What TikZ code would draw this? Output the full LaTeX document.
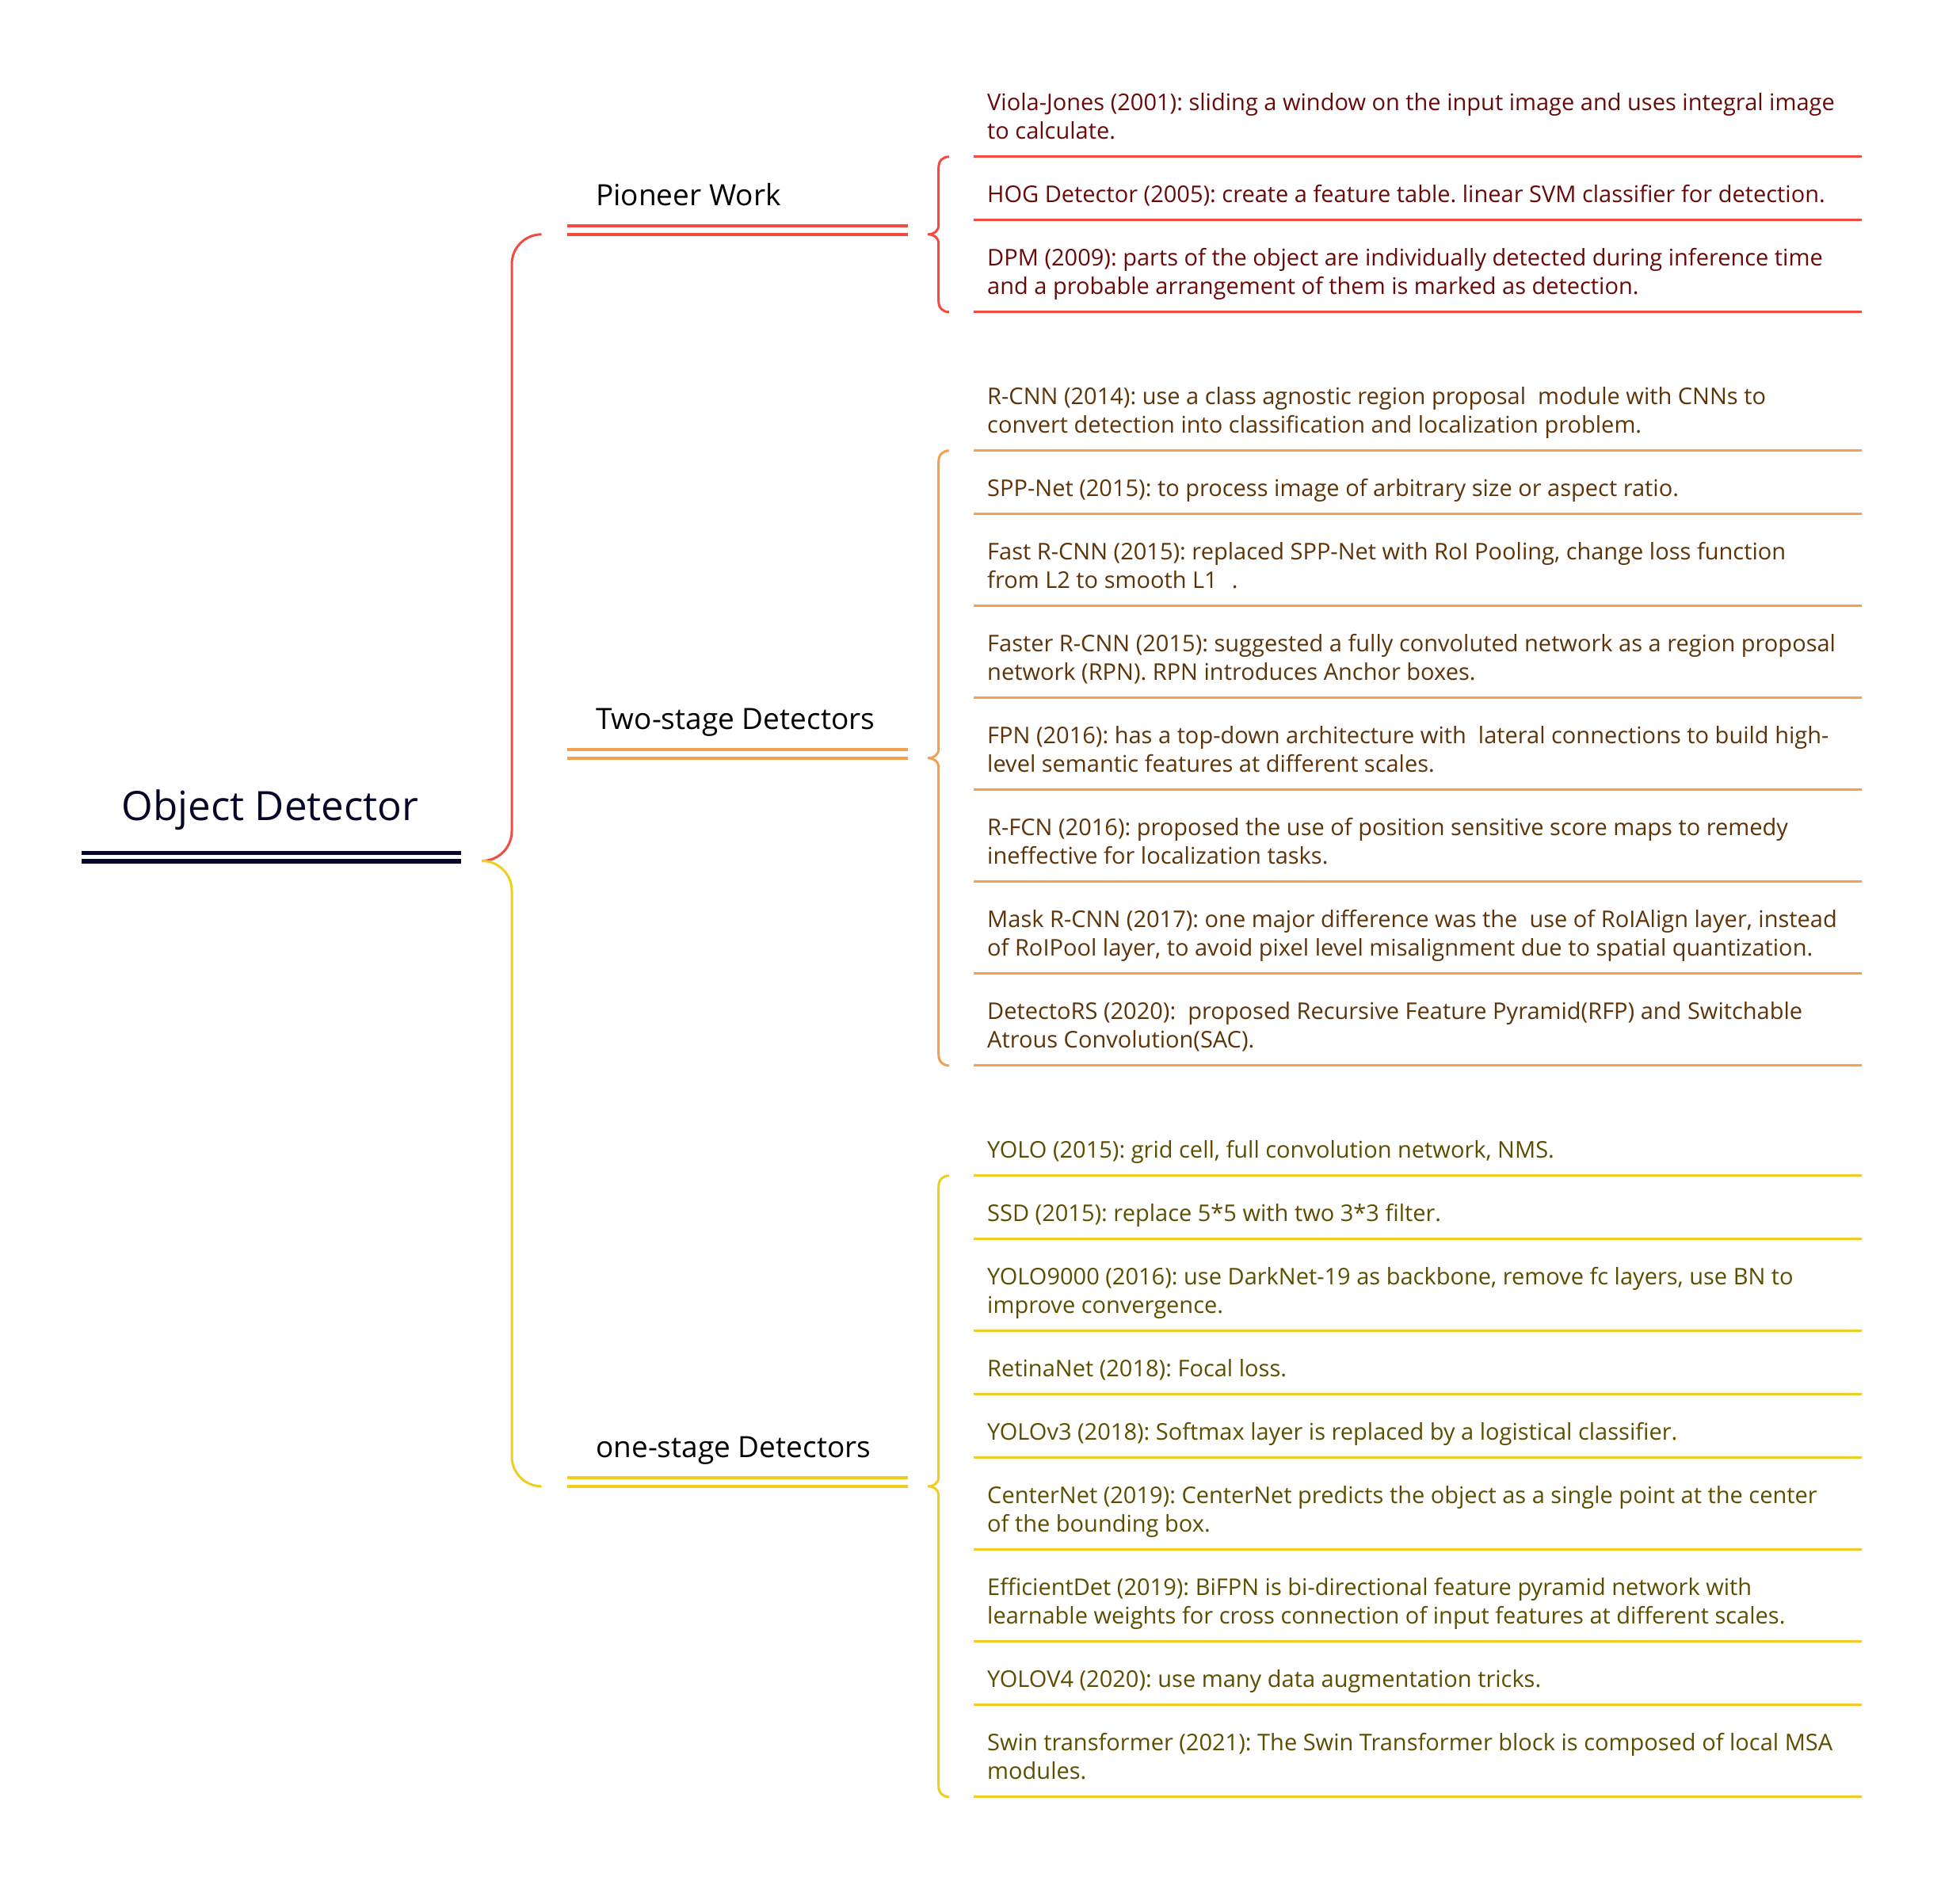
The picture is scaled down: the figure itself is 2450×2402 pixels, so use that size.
\documentclass[tikz,border=0pt]{standalone}
\usepackage{fontspec}
\setmainfont{Open Sans}
\frenchspacing
\definecolor{navy}{RGB}{6,6,38}
\definecolor{redL}{RGB}{244,75,65}
\definecolor{orangeL}{RGB}{244,161,79}
\definecolor{yellowL}{RGB}{241,205,36}
\definecolor{redT}{RGB}{105,10,10}
\definecolor{orangeT}{RGB}{94,51,8}
\definecolor{yellowT}{RGB}{92,77,0}
\newcommand{\itemrow}[4]{%
  \coordinate (#1L) at (1229.4,#3);
  \coordinate (#1R) at (2350,#3);
  \draw[itemline,#2L] (#1L) -- (#1R);
  \node[itemtext,text=#2T] (#1) at (1246,{#3-22}) {\parbox[b]{1150pt}{\raggedright\frenchspacing #4}};
}
\newcommand{\subbrace}[4]{%
  \pgfmathsetmacro\bmid{(#2+#3)/2}
  \coordinate (#4t) at (1198,#2);
  \coordinate (#4b) at (1198,#3);
  \coordinate (#4m) at (1171,\bmid);
  \draw[bracepath,#1] (#4t) .. controls (1190,#2) and (1184.7,{#2+5}) .. (1184.7,{#2+14})
    -- (1184.7,{\bmid-12}) .. controls (1184.7,{\bmid-4}) and (1179,\bmid) .. (#4m)
    .. controls (1179,\bmid) and (1184.7,{\bmid+4}) .. (1184.7,{\bmid+12})
    -- (1184.7,{#3-14}) .. controls (1184.7,{#3-5}) and (1190,#3) .. (#4b);
}
\newcommand{\branch}[4]{% name, colour, mid y, text
  \node[branchtext] (#1) at (752,{#3-36.4}) {#4};
  \coordinate (#1a) at (716,{#3-11});
  \coordinate (#1b) at (1145.5,{#3-11});
  \coordinate (#1c) at (716,{#3});
  \coordinate (#1d) at (1145.5,{#3});
  \coordinate (#1S) at (683,{#3});
  \draw[branchline,#2] (#1a) -- (#1b) (#1c) -- (#1d);
}
\begin{document}
\begin{tikzpicture}[x=1pt,y=-1pt,line cap=butt,
  itemtext/.style={anchor=base west,inner sep=0pt,font=\fontsize{29}{36}\selectfont},
  itemline/.style={line width=3.3pt},
  bracepath/.style={line width=3pt},
  branchline/.style={line width=3.6pt},
  branchtext/.style={anchor=base west,inner sep=0pt,font=\fontsize{37}{44}\selectfont,text=black},
  conn/.style={line width=3pt,rounded corners=37.5pt}]
\useasboundingbox (0,0) rectangle (2450,2402);

% root
\node[anchor=base,inner sep=0pt,font=\fontsize{51}{60}\selectfont,text=navy] (root) at (341,1035) {Object Detector};
\coordinate (rootA) at (103,1076.5);
\coordinate (rootB) at (582,1076.5);
\coordinate (rootC) at (103,1087);
\coordinate (rootD) at (582,1087);
\draw[navy,line width=5.4pt] (rootA) -- (rootB) (rootC) -- (rootD);
\coordinate (rj) at (608,1086.5);

% branches
\branch{pw}{redL}{295.8}{Pioneer Work}
\branch{ts}{orangeL}{956.8}{Two-stage Detectors}
\branch{os}{yellowL}{1875.8}{one-stage Detectors}

\draw[conn,redL] (rj) -- ++(38,0) |- (pwS);
\draw[conn,yellowL] (rj) -- ++(38,0) |- (osS);

% sub braces
\subbrace{redL}{197.8}{393.8}{pb}
\subbrace{orangeL}{568.8}{1344.8}{tb}
\subbrace{yellowL}{1483.8}{2267.8}{ob}

% items
\itemrow{viola}{red}{197.8}{Viola-Jones (2001): sliding a window on the input image and uses integral image\\to calculate.}
\itemrow{hog}{red}{277.8}{HOG Detector (2005): create a feature table. linear SVM classifier for detection.}
\itemrow{dpm}{red}{393.8}{DPM (2009): parts of the object are individually detected during inference time\\and a probable arrangement of them is marked as detection.}

\itemrow{rcnn}{orange}{568.8}{R-CNN (2014): use a class agnostic region proposal\ \ module with CNNs to\\convert detection into classification and localization problem.}
\itemrow{spp}{orange}{648.8}{SPP-Net (2015): to process image of arbitrary size or aspect ratio.}
\itemrow{fast}{orange}{764.8}{Fast R-CNN (2015): replaced SPP-Net with RoI Pooling, change loss function\\from L2 to smooth L1\hspace*{18pt}.}
\itemrow{faster}{orange}{880.8}{Faster R-CNN (2015): suggested a fully convoluted network as a region proposal\\network (RPN). RPN introduces Anchor boxes.}
\itemrow{fpn}{orange}{996.8}{FPN (2016): has a top-down architecture with\ \ lateral connections to build high-\\level semantic features at different scales.}
\itemrow{rfcn}{orange}{1112.8}{R-FCN (2016): proposed the use of position sensitive score maps to remedy\\ineffective for localization tasks.}
\itemrow{mask}{orange}{1228.8}{Mask R-CNN (2017): one major difference was the\ \ use of RoIAlign layer, instead\\of RoIPool layer, to avoid pixel level misalignment due to spatial quantization.}
\itemrow{dets}{orange}{1344.8}{DetectoRS (2020):\ \ proposed Recursive Feature Pyramid(RFP) and Switchable\\Atrous Convolution(SAC).}

\itemrow{yolo}{yellow}{1483.8}{YOLO (2015): grid cell, full convolution network, NMS.}
\itemrow{ssd}{yellow}{1563.8}{SSD (2015): replace 5*5 with two 3*3 filter.}
\itemrow{yolok}{yellow}{1679.8}{YOLO9000 (2016): use DarkNet-19 as backbone, remove fc layers, use BN to\\improve convergence.}
\itemrow{retina}{yellow}{1759.8}{RetinaNet (2018): Focal loss.}
\itemrow{yolov}{yellow}{1839.8}{YOLOv3 (2018): Softmax layer is replaced by a logistical classifier.}
\itemrow{center}{yellow}{1955.8}{CenterNet (2019): CenterNet predicts the object as a single point at the center\\of the bounding box.}
\itemrow{eff}{yellow}{2071.8}{EfficientDet (2019): BiFPN is bi-directional feature pyramid network with\\learnable weights for cross connection of input features at different scales.}
\itemrow{yolof}{yellow}{2151.8}{YOLOV4 (2020): use many data augmentation tricks.}
\itemrow{swin}{yellow}{2267.8}{Swin transformer (2021): The Swin Transformer block is composed of local MSA\\modules.}
\end{tikzpicture}
\end{document}
